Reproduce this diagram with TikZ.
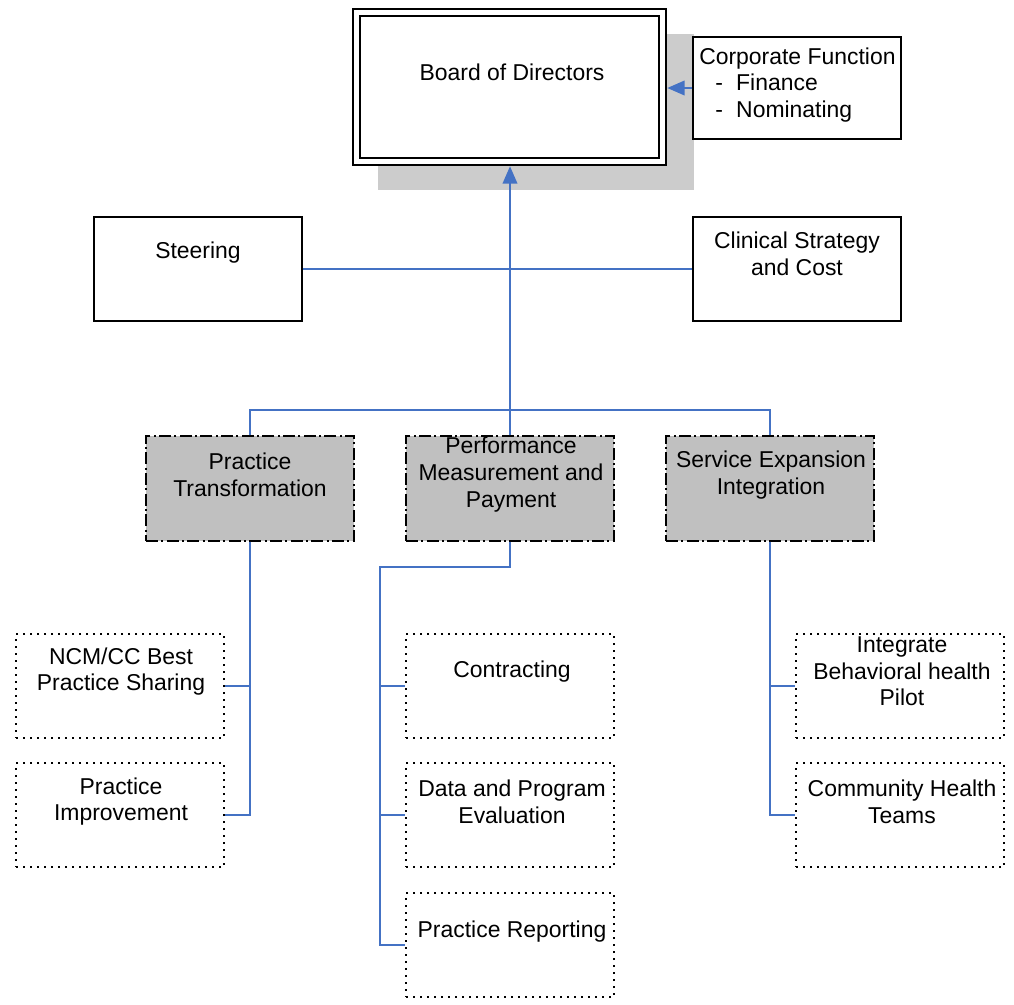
\documentclass[tikz,border=0pt]{standalone}
\usepackage{fontspec}
\setmainfont{Liberation Sans}
\usetikzlibrary{arrows.meta}
\newcommand\pxl{0.75pt}
\definecolor{linkblue}{RGB}{68,114,196}
\definecolor{groupgray}{RGB}{192,192,192}
\definecolor{shadegray}{RGB}{204,204,204}
\begin{document}
\begin{tikzpicture}[x=0.75pt,y=-0.75pt,
  font=\fontsize{17.2}{20}\selectfont,
  plainbox/.style={draw=black, line width=1.1pt, fill=white, inner sep=0pt,
    minimum width=208*\pxl, minimum height=104*\pxl},
  groupbox/.style={draw=black, line width=1.1pt, fill=groupgray, inner sep=0pt,
    dash pattern=on 9pt off 2.5pt on 1.5pt off 2.5pt,
    minimum width=208*\pxl, minimum height=105*\pxl},
  leafbox/.style={draw=black, line width=1.2pt, inner sep=0pt,
    dash pattern=on 1.2pt off 4.05pt,
    minimum width=208*\pxl, minimum height=104*\pxl},
  txt/.style={align=center, inner sep=0pt, text=black},
  conn/.style={draw=linkblue, line width=1.2pt},
  tip/.style={-{Triangle[length=13pt,width=11pt]}}
]
\useasboundingbox (0,0) rectangle (1014,1004);

% board with its shadow
\node[fill=shadegray, inner sep=0pt, minimum width=316*\pxl, minimum height=156*\pxl]
  (shade) at (536,112) {};
\node[draw=black, line width=1.2pt, double=white, double distance=3.8pt, fill=white,
  inner sep=0pt, minimum width=306*\pxl, minimum height=149*\pxl]
  (board) at (509.5,87) {};
\node[txt] (boardt) at (512,72) {Board of Directors};

% corporate function
\node[plainbox, minimum height=102*\pxl] (corp) at (797,88) {};
\node[txt, align=left, anchor=west] (corpt) at (699,85)
  {Corporate Function\\\hspace*{12pt}-\hspace{10pt}Finance\\\hspace*{12pt}-\hspace{10pt}Nominating};

% committees
\node[plainbox] (steer) at (198,269) {};
\node[txt] (steert) at (198,253) {Steering};
\node[plainbox] (clin) at (797,269) {};
\node[txt] (clint) at (797,254) {Clinical Strategy\\and Cost};

% work groups
\node[groupbox] (pt) at (250,488.5) {};
\node[txt] (ptt) at (250,475) {Practice\\Transformation};
\node[groupbox] (pmp) at (510,488.5) {};
\node[txt] (pmpt) at (511,474.5) {Performance\\Measurement and\\Payment};
\node[groupbox] (sei) at (770,488.5) {};
\node[txt] (seit) at (771,475) {Service Expansion\\Integration};

% sub groups
\node[leafbox] (ncm) at (120,686) {};
\node[txt] (ncmt) at (121,671.5) {NCM/CC Best\\Practice Sharing};
\node[leafbox] (pimp) at (120,815) {};
\node[txt] (pimpt) at (121,801.5) {Practice\\Improvement};
\node[leafbox] (con) at (510,686) {};
\node[txt] (cont) at (512,672) {Contracting};
\node[leafbox] (data) at (510,815) {};
\node[txt] (datat) at (512,801.5) {Data and Program\\Evaluation};
\node[leafbox] (rep) at (510,945) {};
\node[txt] (rept) at (512,932) {Practice Reporting};
\node[leafbox] (ibh) at (900,686) {};
\node[txt] (ibht) at (902,671.5) {Integrate\\Behavioral health\\Pilot};
\node[leafbox] (cht) at (900,815) {};
\node[txt] (chtt) at (902,801.5) {Community Health\\Teams};

% connectors
\coordinate (busl) at (250,410);
\coordinate (busr) at (770,410);
\coordinate (pbus) at (380,567);
\draw[conn] (steer.east) -- (clin.west);
\draw[conn] (pt.north) -- (busl) -- (busr) -- (sei.north);
\draw[conn, tip] (pmp.north) -- ([yshift=-3pt]pmp.north |- board.south);
\draw[conn, tip] (corp.west) -- ([xshift=3pt]corp.west -| board.east);

\draw[conn] (pt.south) |- (ncm.east);
\draw[conn] (pt.south) |- (pimp.east);

\draw[conn] (pmp.south) |- (pbus) |- (rep.west);
\draw[conn] (pbus) |- (con.west);
\draw[conn] (pbus) |- (data.west);

\draw[conn] (sei.south) |- (ibh.west);
\draw[conn] (sei.south) |- (cht.west);
\end{tikzpicture}
\end{document}
